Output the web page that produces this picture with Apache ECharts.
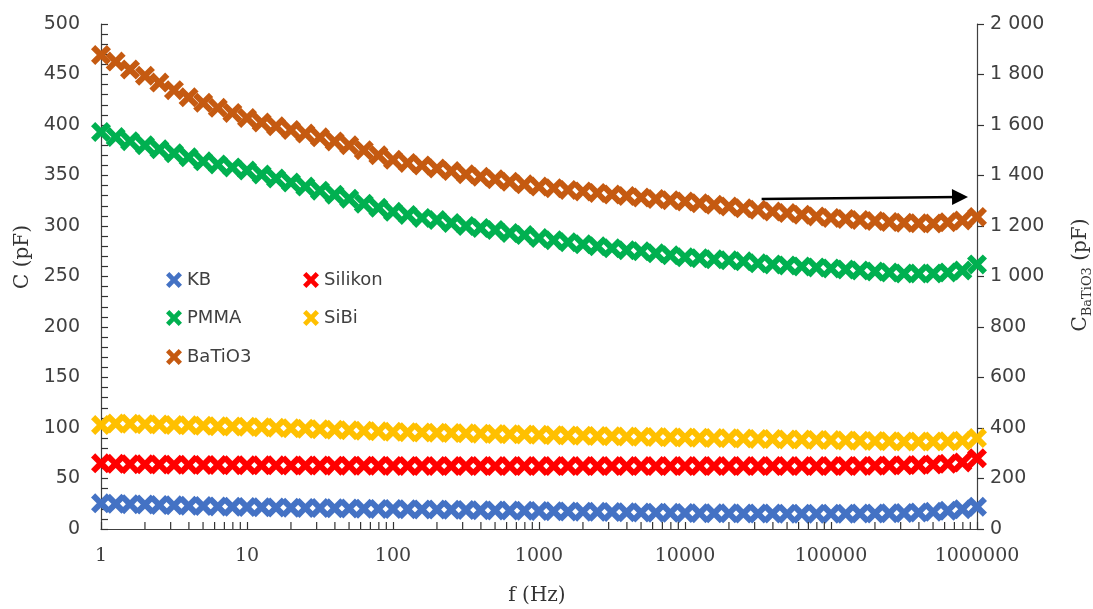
<!DOCTYPE html>
<html>
<head>
<meta charset="utf-8">
<script src="https://cdn.jsdelivr.net/npm/echarts@6/dist/echarts.min.js"></script>
<style>html,body{margin:0;padding:0;background:#fff}#c{width:1093px;height:609px}</style>
</head>
<body>
<div id="c"></div>
<script>
// Frequencies (Hz)
const freq = [1,1.26,1.58,2,2.51,3.16,3.98,5.01,6.31,7.94,
  10,12.6,15.8,20,25.1,31.6,39.8,50.1,63.1,79.4,
  100,126,158,200,251,316,398,501,631,794,
  1000,1260,1580,2000,2510,3160,3980,5010,6310,7940,
  10000,12600,15800,20000,25100,31600,39800,50100,63100,79400,
  100000,126000,158000,200000,251000,316000,398000,501000,631000,794000,1000000];

// Capacitance (pF), left axis
const KB = [25.4,25,24.6,24.2,23.8,23.4,23,22.7,22.4,22.1,
  21.8,21.5,21.3,21.1,20.9,20.7,20.5,20.3,20.1,19.9,
  19.8,19.6,19.4,19.2,19.0,18.8,18.6,18.4,18.2,18.0,
  17.8,17.6,17.4,17.2,17.0,16.8,16.6,16.4,16.2,16.0,
  15.8,15.7,15.6,15.5,15.4,15.3,15.3,15.2,15.2,15.2,
  15.2,15.2,15.3,15.4,15.6,15.9,16.3,17.0,18.0,19.5,22];
const Silikon = [65,64.5,64.2,64,63.8,63.6,63.5,63.4,63.3,63.2,
  63.1,63,63,62.9,62.8,62.8,62.7,62.7,62.6,62.6,
  62.5,62.5,62.5,62.4,62.4,62.4,62.4,62.3,62.3,62.3,
  62.3,62.3,62.3,62.3,62.3,62.3,62.3,62.3,62.3,62.3,
  62.3,62.3,62.3,62.3,62.3,62.3,62.3,62.3,62.3,62.3,
  62.3,62.4,62.5,62.6,62.8,63,63.3,63.8,64.5,65.8,70];
const PMMA = [393,388,384,380,376,372,368,364,361,358,
  355,351,347,343,339,335,331,327,322,318,
  314,311,308,306,303,300,298,296,293,291,
  288,286,284,282,280,278,276,275,273,271,
  269,268,267,266,265,263,262,261,260,259,
  258,257,256,255,254,253,253,253,254,256,262];
const SiBi = [103,104.5,104.2,103.8,103.4,103,102.6,102.2,101.8,101.5,
  101.2,100.7,100.2,99.7,99.2,98.7,98.2,97.7,97.2,96.7,
  96.2,95.9,95.6,95.3,95,94.7,94.4,94.1,93.8,93.5,
  93.2,92.9,92.6,92.4,92.1,91.8,91.5,91.3,91,90.8,
  90.6,90.3,90.0,89.8,89.5,89.2,89.0,88.7,88.5,88.2,
  88,87.7,87.4,87.1,86.9,86.7,86.6,86.6,86.8,87.5,90];
// Capacitance (pF), right axis
const BaTiO3 = [1877,1851,1820,1795,1768,1738,1710,1688,1668,1648,
  1628,1610,1595,1580,1566,1551,1535,1520,1500,1480,
  1462,1450,1440,1428,1418,1405,1395,1385,1375,1365,
  1356,1350,1343,1337,1331,1325,1319,1313,1307,1302,
  1297,1290,1284,1277,1270,1264,1257,1251,1245,1238,
  1232,1228,1224,1220,1216,1213,1211,1210,1215,1222,1236];

// Arrow annotation (f, C_BaTiO3)
const arrowFrom = [33500, 1307];
const arrowTo = [765000, 1315];

// Axis ticks
const xMinorTicks = [2,3,4,5,6,7,8,9,20,30,40,50,60,70,80,90,200,300,400,500,600,700,800,900,
  2000,3000,4000,5000,6000,7000,8000,9000,20000,30000,40000,50000,60000,70000,80000,90000,
  200000,300000,400000,500000,600000,700000,800000,900000];
const xTickLabels = ['1','10','100','1000','10000','100000','1000000'];
const rightTickLabels = ['0','200','400','600','800','1 000','1 200','1 400','1 600','1 800','2 000'];

const names = ['KB','Silikon','PMMA','SiBi','BaTiO3'];
const colors = ['#4472C4','#FF0000','#00B050','#FFC000','#C55A11'];
const values = [KB, Silikon, PMMA, SiBi, BaTiO3];

const X = 'path://M0,2.1L2.1,0L5,2.9L7.9,0L10,2.1L7.1,5L10,7.9L7.9,10L5,7.1L2.1,10L0,7.9L2.9,5Z';
const sans = 'DejaVu Sans';
const serif = 'DejaVu Serif';
const txt = '#404040';
const axisCol = '#404040';

const chart = echarts.init(document.getElementById('c'), null, {renderer:'canvas'});

const series = names.map((n,i) => {
  const s = {
    name: n, type: 'scatter', yAxisIndex: i === 4 ? 1 : 0,
    symbol: X, symbolSize: 20,
    itemStyle: {color: colors[i], opacity: 1},
    data: freq.map((f,j) => [f, values[i][j]]),
    z: 3
  };
  if (n === 'BaTiO3') {
    s.markLine = {
      silent: true, animation: false,
      symbol: ['none','triangle'], symbolSize: 16,
      label: {show: false},
      lineStyle: {color: '#000', width: 2.5, type: 'solid', opacity: 1},
      itemStyle: {color: '#000'},
      emphasis: {disabled: true},
      data: [[{coord: arrowFrom}, {coord: arrowTo}]]
    };
  }
  return s;
});

series.push({
  type: 'custom', silent: true, xAxisIndex: 0, yAxisIndex: 0, clip: false,
  data: xMinorTicks.map(v => [v, 0]),
  encode: {x: 0, y: 1},
  renderItem: function (params, api) {
    const p = api.coord([api.value(0), api.value(1)]);
    return {type: 'line', shape: {x1: p[0], y1: p[1], x2: p[0], y2: p[1] - 7},
      style: {stroke: '#333', lineWidth: 1.2}};
  },
  z: 5
});

const legendPos = [[161,266],[298,266],[161,304],[298,304],[161,343]];
const legends = names.map((n,i) => ({
  data: [n], left: legendPos[i][0], top: legendPos[i][1],
  icon: X, itemWidth: 16, itemHeight: 16, itemGap: 5,
  textStyle: {fontFamily: sans, fontSize: 18, color: txt},
  selectedMode: false
}));

chart.setOption({
  animation: false,
  backgroundColor: '#fff',
  grid: {left: 101, right: 116, top: 24, bottom: 80, containLabel: false},
  legend: legends,
  xAxis: {
    type: 'log', logBase: 10, min: 1, max: 1000000,
    axisLine: {lineStyle: {color: axisCol, width: 1.2}},
    axisTick: {show: true, inside: true, length: 7, lineStyle: {color: '#333', width: 1.2}},
    splitLine: {show: false},
    axisLabel: {margin: 18, fontFamily: serif, fontSize: 19, color: txt,
      formatter: v => { const k = Math.round(Math.log10(v)); return xTickLabels[k] !== undefined ? xTickLabels[k] : ''; }}
  },
  yAxis: [{
    type: 'value', min: 0, max: 500, interval: 50,
    axisLine: {show: true, lineStyle: {color: axisCol, width: 1.2}},
    axisTick: {show: true, inside: true, length: 7, lineStyle: {color: '#333', width: 1.2}},
    minorTick: {show: true, splitNumber: 5, length: 7, lineStyle: {color: '#333', width: 1.2}},
    splitLine: {show: false},
    axisLabel: {margin: 21, fontFamily: sans, fontSize: 19, color: txt}
  }, {
    type: 'value', min: 0, max: 2000, interval: 200, position: 'right',
    axisLine: {show: true, lineStyle: {color: axisCol, width: 1.2}},
    axisTick: {show: true, inside: false, length: 7, lineStyle: {color: '#333', width: 1.2}},
    splitLine: {show: false},
    axisLabel: {margin: 13, fontFamily: sans, fontSize: 19, color: txt,
      formatter: v => rightTickLabels[Math.round(v / 200)]}
  }],
  graphic: [{
    type: 'text', x: 23, y: 257, rotation: Math.PI / 2,
    style: {text: 'C (pF)', font: '20px "DejaVu Serif"', fill: '#333', align: 'center', verticalAlign: 'middle'}
  }, {
    type: 'text', x: 1081, y: 275, rotation: Math.PI / 2,
    style: {
      text: '{a|C}{b|BaTiO3}{a| (pF)}', align: 'center', verticalAlign: 'middle', fill: '#333',
      rich: {
        a: {fontFamily: serif, fontSize: 20, lineHeight: 26, verticalAlign: 'middle', fill: '#333'},
        b: {fontFamily: serif, fontSize: 13, lineHeight: 13, verticalAlign: 'bottom', fill: '#333'}
      }
    }
  }, {
    type: 'text', x: 537, y: 596,
    style: {text: 'f (Hz)', font: '20px "DejaVu Serif"', fill: '#333', align: 'center', verticalAlign: 'middle'}
  }],
  series: series
});
</script>
</body>
</html>
